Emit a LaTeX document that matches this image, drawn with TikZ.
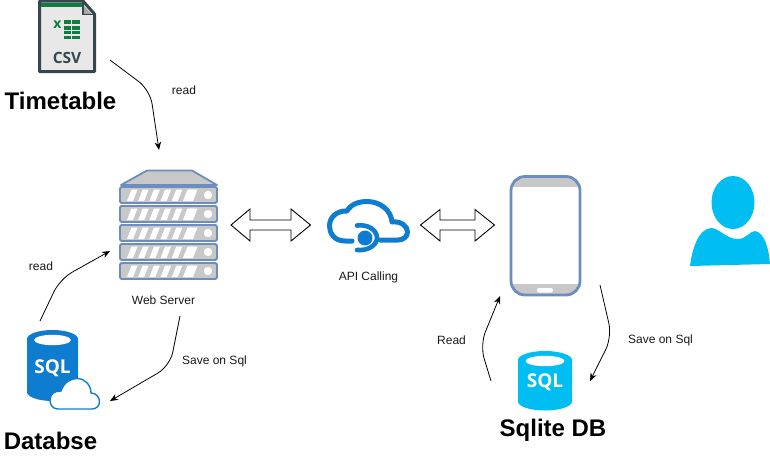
\documentclass[tikz,border=0pt]{standalone}
\usepackage{fontspec}
\setmainfont{Liberation Sans}
\newfontfamily\iconfont{Open Sans}
\usetikzlibrary{arrows.meta}
\definecolor{azure}{HTML}{0F7DCF}
\definecolor{sky}{HTML}{00BEF2}
\definecolor{steel}{HTML}{6C8EBF}
\definecolor{rack}{HTML}{C8C8C8}
\definecolor{slate}{HTML}{37474F}
\definecolor{xl}{HTML}{107C41}
\tikzset{
  small/.style={font=\fontsize{12}{14}\selectfont,inner sep=0pt,text=black!90},
  big/.style={font=\fontsize{24}{28}\selectfont\bfseries,inner sep=0pt},
  flow/.style={draw=black,line width=0.8pt,-{Stealth[length=8pt,width=6.5pt]},rounded corners=14pt},
  dbl/.style={draw=black,line width=0.9pt,fill=white,line join=miter},
  rackbox/.style={draw=steel,line width=1.8pt,fill=rack,rounded corners=1.5pt},
  sqltext/.style={inner sep=0pt,text=white,font=\fontsize{19}{20}\selectfont\iconfont\bfseries},
}
\newcommand{\rackrow}[1]{%
  \draw[rackbox] (120,#1) rectangle (217,#1+16);
  \foreach \i in {0,...,5} \fill[white] (127+\i*11.2,#1+14) -- (131.5+\i*11.2,#1+2.5) -- (137.5+\i*11.2,#1+2.5) -- (133+\i*11.2,#1+14) -- cycle;
  \fill[white] (193,#1+14) -- (197.5,#1+2.5) -- (190,#1+2.5) -- (186,#1+14) -- cycle;
  \fill[white] (208,#1+8) circle (4.2);
}
\newcommand{\sqlcyl}[5]{% cx, top, bottom, rx, colour
  \fill[#5] (#1-#4,#2+9) arc[start angle=180,end angle=360,x radius=#4,y radius=9] -- (#1+#4,#3-9) arc[start angle=0,end angle=180,x radius=#4,y radius=9] -- cycle;
  \fill[white] (#1,#2+10) ellipse ({#4*0.72} and 5.2);
}
\begin{document}
\begin{tikzpicture}[x=1pt,y=-1pt]
\useasboundingbox (0,0) rectangle (770,461);

% CSV icon
\draw[slate,line width=3pt,fill=black!9,line join=round] (39.5,1) -- (83,1) -- (94.5,14) -- (94.5,71.5) -- (39.5,71.5) -- cycle;
\fill[xl] (41,3) rectangle (83,6.5);
\fill[black!35] (83,5) -- (92,14.5) -- (83,14.5) -- cycle;
\draw[slate,line width=1.6pt] (83,2) -- (83,14.5) -- (94,14.5);
\node[inner sep=0pt,text=xl,font=\fontsize{14}{14}\selectfont\iconfont\bfseries] (csvx) at (57.5,24.5) {x};
\foreach \r/\y/\h in {0/20/4.4,1/26/3.6,2/30.8/3.6,3/36/3.4} \foreach \c in {0,1} \fill[xl] (63.5+\c*8.7,\y) rectangle +(7.8,\h);
\node[inner sep=0pt,text=slate,font=\fontsize{15.5}{16}\selectfont\iconfont\bfseries] (csvtext) at (67,57.5) {CSV};
\node[big] (timetable) at (60.5,101) {Timetable};

% Server
\draw[draw=steel,line width=1.8pt,fill=rack,line join=round] (121,185) -- (147,170.5) -- (192,170.5) -- (217,185) -- cycle;
\rackrow{187}
\rackrow{206}
\rackrow{225}
\rackrow{244}
\rackrow{263}
\node[small] (webserver) at (163.5,300) {Web Server};

% Double arrows
\draw[dbl] (231,225) -- (250,209) -- (250,220) -- (291,220) -- (291,209) -- (310.5,225) -- (291,241) -- (291,230) -- (250,230) -- (250,241) -- cycle;
\draw[dbl] (420.5,225) -- (440,209.5) -- (440,220) -- (475,220) -- (475,209.5) -- (494.5,225) -- (475,241) -- (475,230) -- (440,230) -- (440,241) -- cycle;

% API cloud
\draw[azure,line width=5pt,line cap=round,line join=round]
  (352,241) -- (345,241)
  .. controls (334,241) and (329.5,233) .. (329.5,226)
  .. controls (329.5,217) and (337,210.5) .. (347,211)
  .. controls (351,204) and (359,201.5) .. (367,201.5)
  .. controls (380,201.5) and (391,210) .. (392,222)
  .. controls (401,221) and (407.5,226) .. (407.5,232)
  .. controls (407.5,237) and (403,240) .. (398,240)
  -- (380,240);
\draw[azure,line width=4.6pt,line cap=round]
  (357,225.5) .. controls (368,224) and (377,230) .. (377,238)
  .. controls (377,245) and (368,251) .. (357,250);
\fill[azure] (365,238) circle (7.5);
\node[small] (api) at (368.5,277.5) {API Calling};

% Phone
\draw[draw=none,fill=white,rounded corners=14pt] (511,176.5) rectangle (580,295);
\begin{scope}
\clip[rounded corners=14pt] (511,176.5) rectangle (580,295);
\fill[rack] (511,176) rectangle (580,187);
\fill[rack] (511,284) rectangle (580,296);
\end{scope}
\draw[draw=steel,line width=2.8pt,rounded corners=14pt] (511,176.5) rectangle (580,295);
\fill[white,rounded corners=2pt] (537,288) rectangle (553,292.5);

% Person
\fill[sky] (733,202.5) ellipse (21.5 and 26.5);
\fill[sky] (690,266)
  .. controls (692,250) and (698,229) .. (711,228)
  .. controls (719,228) and (726,239) .. (738,239)
  .. controls (746,239) and (750,231) .. (755,231)
  .. controls (765,233) and (769,250) .. (770,264) -- cycle;

% SQL with cloud
\sqlcyl{52.5}{330}{401}{25.5}{azure}
\node[sqltext] (sqlcloud) at (52.5,368.5) {SQL};
\draw[azure,line width=1.4pt,fill=white,line join=round]
  (58,409) .. controls (52,409) and (50,404) .. (50,400)
  .. controls (50,394) and (55,390.5) .. (61,391)
  .. controls (64,382) and (71,378.5) .. (77,378.5)
  .. controls (85,378.5) and (91,385) .. (91,393)
  .. controls (96,393) and (99.5,397) .. (99.5,402)
  .. controls (99.5,406) and (96,409) .. (92,409) -- cycle;
\node[big] (databse) at (50.5,441) {Databse};

% SQLite
\sqlcyl{545}{351}{410.5}{27}{sky}
\node[sqltext] (sqlite) at (545,382.5) {SQL};
\node[big] (sqlitedb) at (553,430.5) {Sqlite DB};

% Connector ends
\coordinate (a1) at (110,60);   \coordinate (a2) at (159,150);
\coordinate (b1) at (40,321);   \coordinate (b2) at (110,251);
\coordinate (c1) at (180,316);  \coordinate (c2) at (110,401);
\coordinate (d1) at (491,381);  \coordinate (d2) at (500,296);
\coordinate (e1) at (600,285);  \coordinate (e2) at (590,381);

\draw[flow] (a1) -- (150,90) -- (a2);
\draw[flow] (b1) -- (60,279) -- (b2);
\draw[flow] (c1) -- (170,366) -- (c2);
\draw[flow] (d1) -- (480,345) -- (d2);
\draw[flow] (e1) -- (612,337) -- (e2);

% Labels
\node[small] (read1) at (184,90.5) {read};
\node[small] (read2) at (41,266.5) {read};
\node[small] (save1) at (214.5,361.5) {Save on Sql};
\node[small] (read3) at (451.5,340.5) {Read};
\node[small] (save2) at (660.5,340.5) {Save on Sql};
\end{tikzpicture}
\end{document}
